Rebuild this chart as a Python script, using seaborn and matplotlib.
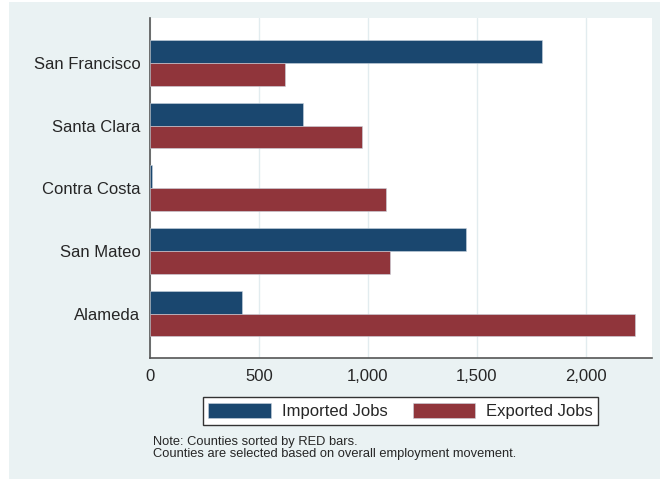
import pandas as pd
import matplotlib.pyplot as plt
import matplotlib.ticker as mticker
from matplotlib.patches import Rectangle
import seaborn as sns

# Data
counties = ['San Francisco', 'Santa Clara', 'Contra Costa', 'San Mateo', 'Alameda']
imported = [1800, 702, 10, 1448, 420]
exported = [618, 973, 1082, 1100, 2223]
series = ['Imported Jobs', 'Exported Jobs']

df = pd.DataFrame({
    'county': counties * 2,
    'jobs': imported + exported,
    'type': [series[0]] * len(counties) + [series[1]] * len(counties),
})

sns.set_style('white')
plt.rcParams['font.family'] = ['Liberation Sans', 'DejaVu Sans']

bg = '#eaf2f3'
navy = '#1a476f'
maroon = '#90353b'
edge = '#c9d3de'

fig = plt.figure(figsize=(6.6, 4.79), dpi=100, facecolor='white')
fig.patches.append(Rectangle((8.5 / 660, 0), 1, 1 - 2 / 479, transform=fig.transFigure,
                             facecolor=bg, edgecolor='none', zorder=-10))
ax = fig.add_axes([150 / 660, 1 - 358 / 479, 502 / 660, 340 / 479])

sns.barplot(data=df, y='county', x='jobs', hue='type', hue_order=series, order=counties,
            orient='h', palette=[navy, maroon], saturation=1, width=0.73,
            edgecolor=edge, linewidth=0.4, ax=ax, legend=False, zorder=3)

ax.set_xlim(0, 2303)
ax.set_ylim(4.71, -0.718)
ax.set_xticks([0, 500, 1000, 1500, 2000])
ax.xaxis.set_major_formatter(mticker.FuncFormatter(lambda v, p: f'{int(v):,}'))
ax.grid(axis='x', color='#e2ecef', linewidth=1.0, zorder=0)
ax.set_axisbelow(True)
ax.set_xlabel('')
ax.set_ylabel('')

for s in ['top', 'right']:
    ax.spines[s].set_visible(False)
for s in ['left', 'bottom']:
    ax.spines[s].set_color('#555555')
    ax.spines[s].set_linewidth(1.2)

ax.tick_params(axis='x', length=5, width=1, color='#555555', labelsize=12, pad=3)
ax.tick_params(axis='y', length=0, labelsize=12, pad=7)

handles = [Rectangle((0, 0), 1, 1, facecolor=c, edgecolor=edge, linewidth=0.4)
           for c in [navy, maroon]]
leg = fig.legend(handles, series, loc='center', bbox_to_anchor=(400.5 / 660, 1 - 411 / 479),
                 ncol=2, fontsize=12, frameon=True, fancybox=False, handlelength=3.75,
                 handleheight=1.0, handletextpad=0.65, columnspacing=1.5,
                 borderpad=0.35, borderaxespad=0)
leg.get_frame().set_edgecolor('#333333')
leg.get_frame().set_linewidth(1.0)
leg.get_frame().set_facecolor('white')
leg.get_frame().set_alpha(1)

fig.text(153 / 660, 1 - 436 / 479,
         'Note: Counties sorted by RED bars.\nCounties are selected based on overall employment movement.',
         fontsize=9.3, va='top', ha='left', linespacing=1.05)

fig.savefig('out.png', dpi=100, facecolor=fig.get_facecolor())
